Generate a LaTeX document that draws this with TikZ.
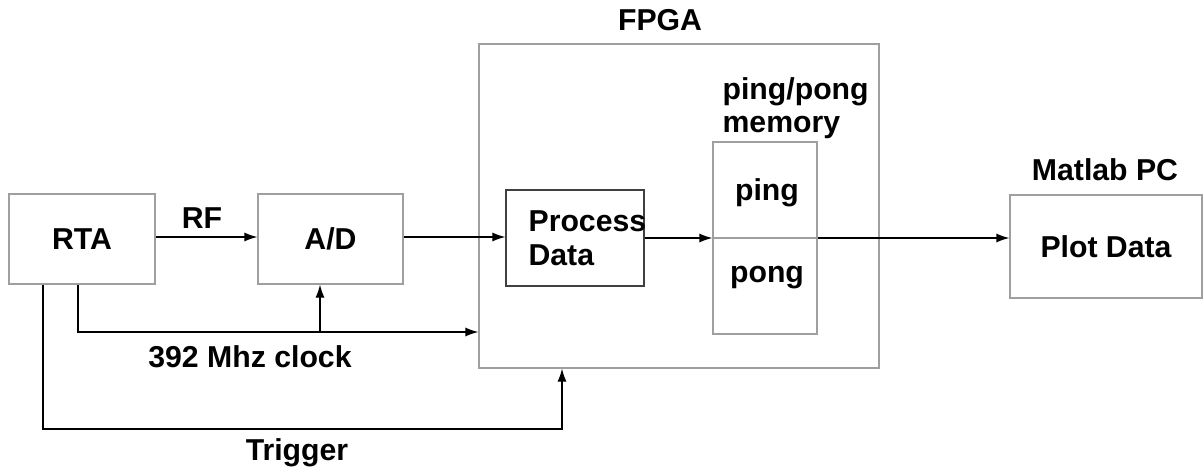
\documentclass[tikz,border=0pt]{standalone}
\usepackage{fontspec}
\setmainfont{Liberation Sans}
\usetikzlibrary{arrows.meta}

\begin{document}
\begin{tikzpicture}[
    x=0.02cm, y=-0.02cm,
    font=\fontsize{17.2}{19.5}\selectfont\bfseries,
    line width=0.7pt,
    block/.style={draw=gray!75, inner sep=0pt},
    label/.style={align=center},
    arr/.style={-{Latex[length=2.6mm,width=1.8mm]}, black}
]
\useasboundingbox (0,0) rectangle (1203,470);

% Source side
\node[block,minimum width=146*0.02cm,minimum height=90*0.02cm] (rta) at (82,239)
    {RTA};
\node[block,minimum width=145*0.02cm,minimum height=90*0.02cm] (ad) at (330.5,239)
    {A/D};
\node[label] (rf) at (202,218) {RF};

\draw[arr] (rta.east |- 0,237) -- (ad.west |- 0,237);

% FPGA
\node[block,minimum width=400*0.02cm,minimum height=324*0.02cm] (fpga) at (679,206) {};
\node[label] (fpgalabel) at (660,20) {FPGA};

\node[draw=black!75,inner sep=0pt,minimum width=138*0.02cm,minimum height=96*0.02cm]
    (process) at (575,238) {};
\node[align=left,anchor=west,inner sep=0pt] (processtext) at (528,238)
    {Process\\Data};

\node[block,minimum width=104*0.02cm,minimum height=192*0.02cm] (memory) at (765,238) {};
\draw[gray!75] (memory.west) -- (memory.east);
\node[label] (ping) at (767,193) {ping};
\node[label] (pong) at (767,278) {pong};
\node[align=left,anchor=west,inner sep=0pt,font=\fontsize{17.2}{18.5}\selectfont\bfseries]
    (memlabel) at (722,108) {ping/pong\\memory};

\draw[arr] (ad.east |- 0,237) -- (process.west |- 0,237);
\draw[arr] (process.east |- memory.west) -- (memory.west);

% Output
\node[block,minimum width=192*0.02cm,minimum height=103*0.02cm] (plot) at (1106,246.5)
    {Plot Data};
\node[label] (matlab) at (1105,170) {Matlab PC};

\draw[arr] (memory.east) -- (memory.east -| plot.west);

% Clock and trigger
\coordinate (clk) at (78,332);
\coordinate (clkup) at (320,332);
\coordinate (trig) at (43,429);
\coordinate (trigup) at (562,429);

\draw[arr] (rta.south -| clk) |- (clk -| fpga.west);
\draw[arr] (clkup) -- (clkup |- ad.south);
\node[label] (clock) at (250,357) {392 Mhz clock};

\draw[arr] (rta.south -| trig) |- (trigup) -- (trigup |- fpga.south);
\node[label] (trigger) at (297,453) {Trigger};

\end{tikzpicture}
\end{document}
